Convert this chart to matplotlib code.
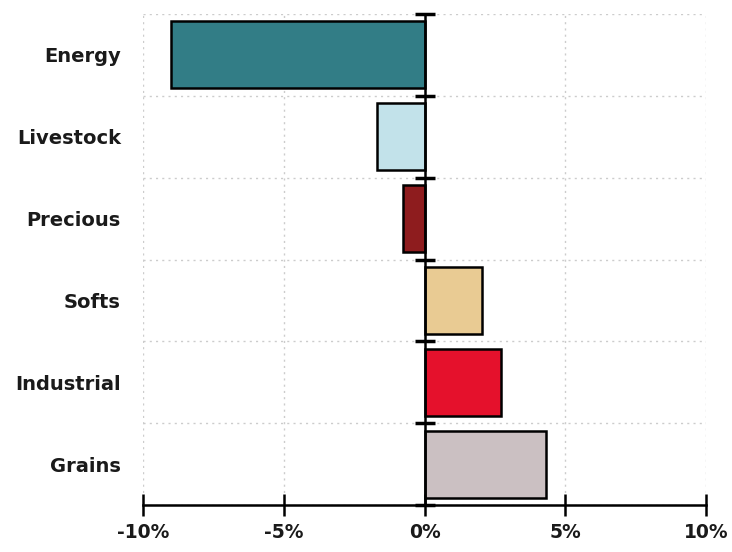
"""Commodity sector returns, horizontal bar chart."""

import matplotlib
matplotlib.use("Agg")
import matplotlib.pyplot as plt
import numpy as np

sectors = ["Energy", "Livestock", "Precious", "Softs", "Industrial", "Grains"]
returns_pct = [-9.0, -1.7, -0.75, 2.05, 2.7, 4.3]
bar_colors = ["#327d86", "#c2e2ea", "#8e1c1e", "#e9cb93", "#e5112c", "#cbc0c2"]
x_ticks = [-10, -5, 0, 5, 10]
x_tick_labels = ["-10%", "-5%", "0%", "5%", "10%"]

plt.rcParams["font.family"] = ["DejaVu Sans"]

fig = plt.figure(figsize=(7.32, 5.52), dpi=100)
ax = fig.add_axes([0.1954, 0.0851, 0.9645 - 0.1954, 0.9746 - 0.0851])

pos = np.arange(len(sectors))
ax.barh(pos, returns_pct, height=0.82, color=bar_colors,
        edgecolor="black", linewidth=1.8, zorder=3)

ax.set_xlim(x_ticks[0], x_ticks[-1])
ax.set_ylim(len(sectors) - 0.5, -0.5)

# grid at category boundaries and x ticks
bounds = np.arange(len(sectors) + 1) - 0.5
ax.set_yticks(bounds, minor=True)
ax.set_yticks(pos)
ax.set_yticklabels(sectors, fontsize=14, fontweight="bold", color="#1a1a1a")
ax.tick_params(axis="y", which="both", length=0, pad=16)
ax.grid(axis="y", which="minor", color="#cccccc", linestyle=(0, (1.5, 3)), linewidth=1.0)
ax.grid(axis="x", which="major", color="#cccccc", linestyle=(0, (1.5, 3)), linewidth=1.0)

ax.set_xticks(x_ticks)
ax.set_xticklabels(x_tick_labels, fontsize=13.5, fontweight="bold", color="#1a1a1a")
ax.tick_params(axis="x", direction="inout", length=16, width=1.8, pad=5)

for side in ["left", "top", "right"]:
    ax.spines[side].set_visible(False)
ax.spines["bottom"].set_linewidth(1.8)

# zero axis with boundary ticks
ax.axvline(0, color="black", linewidth=1.8, zorder=4)
ax.plot(np.zeros_like(bounds), bounds, linestyle="none", marker="_",
        markersize=14, markeredgewidth=2.5, color="black", zorder=5, clip_on=False)

fig.savefig("out.png", dpi=100)
